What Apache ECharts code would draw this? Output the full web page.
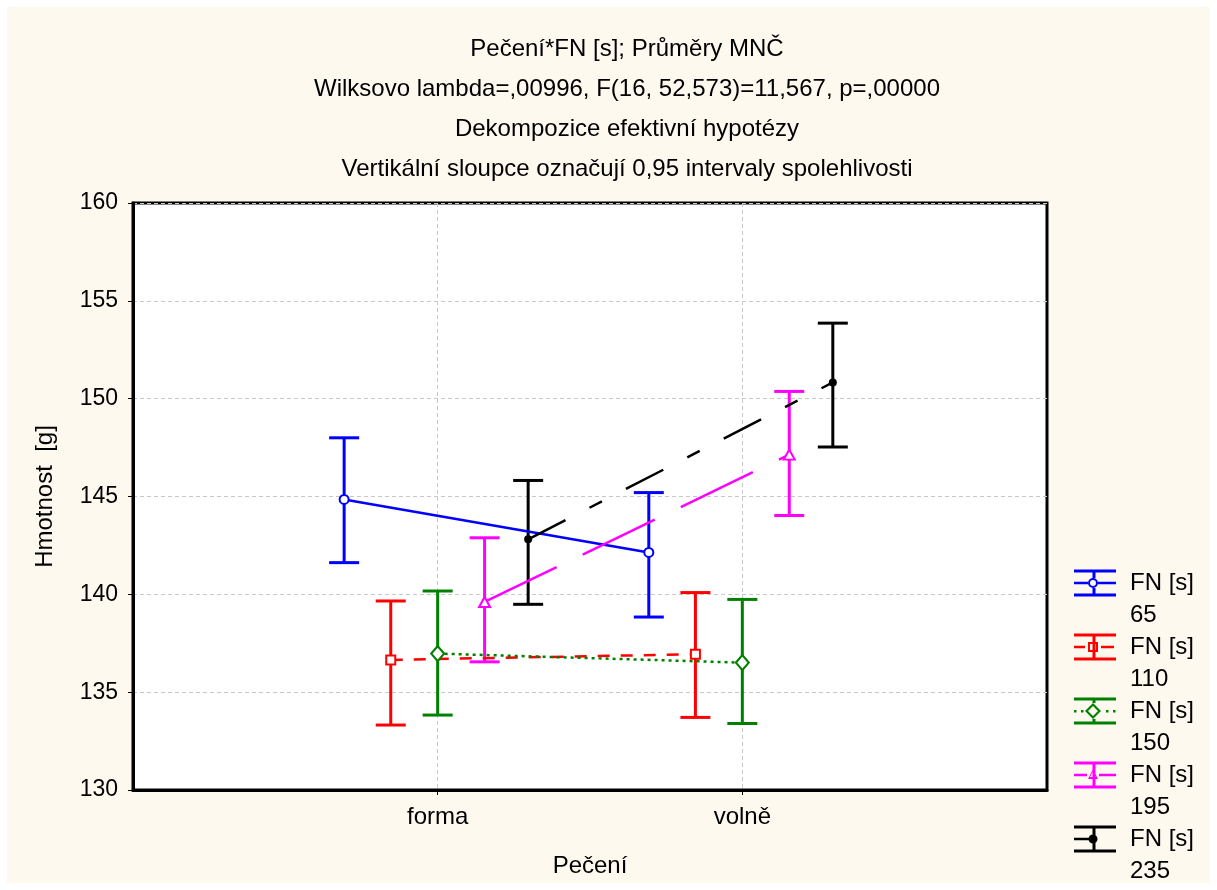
<!DOCTYPE html>
<html>
<head>
<meta charset="utf-8">
<script src="https://cdn.jsdelivr.net/npm/echarts@6/dist/echarts.min.js"></script>
<style>
html, body { margin: 0; background: #fff; }
#chart { position: absolute; left: 7px; top: 7px; width: 1203px; height: 876px; }
</style>
</head>
<body>
<div id="chart"></div>
<script>
// data
const groups = ['forma', 'volně'];
const fnLevels = ['65', '110', '150', '195', '235'];
const means  = [[144.85, 142.14], [136.65, 136.94], [136.97, 136.51], [139.61, 147.14], [142.81, 150.83]];
const lowers = [[141.62, 138.84], [133.32, 133.71], [133.83, 133.40], [136.55, 144.03], [139.49, 147.53]];
const uppers = [[148.00, 145.20], [139.66, 140.09], [140.17, 139.74], [142.89, 150.37], [145.82, 153.86]];

// style
const FONT = '"Liberation Sans", Arial, sans-serif';
const colors = ['#0000ff', '#ff0000', '#008000', '#ff00ff', '#000000'];
const dodge = [-0.307, -0.154, 0, 0.154, 0.297];
const symbols = ['emptyCircle', 'emptyRect', 'emptyDiamond', 'emptyTriangle', 'circle'];
const symbolSizes = [9, 9, [13, 15], [11, 10], 8];
const dashes = ['solid', [12, 11], [3, 4], [80, 29], [42, 27, 14, 27]];

// legend glyphs (error bar + line + marker)
function rect(x, y, w, h) { return `M${x} ${y}L${x + w} ${y}L${x + w} ${y + h}L${x} ${y + h}Z`; }
function ring(cx, cy, ro, ri) {
    return `M${cx + ro} ${cy}A${ro} ${ro} 0 1 1 ${cx - ro} ${cy}A${ro} ${ro} 0 1 1 ${cx + ro} ${cy}Z` +
           `M${cx + ri} ${cy}A${ri} ${ri} 0 1 0 ${cx - ri} ${cy}A${ri} ${ri} 0 1 0 ${cx + ri} ${cy}Z`;
}
function disc(cx, cy, r) {
    return `M${cx + r} ${cy}A${r} ${r} 0 1 1 ${cx - r} ${cy}A${r} ${r} 0 1 1 ${cx + r} ${cy}Z`;
}
function sqRing(cx, cy, ro, ri) {
    return `M${cx - ro} ${cy - ro}L${cx + ro} ${cy - ro}L${cx + ro} ${cy + ro}L${cx - ro} ${cy + ro}Z` +
           `M${cx - ri} ${cy - ri}L${cx - ri} ${cy + ri}L${cx + ri} ${cy + ri}L${cx + ri} ${cy - ri}Z`;
}
function diaRing(cx, cy, ro, ri) {
    return `M${cx} ${cy - ro}L${cx + ro} ${cy}L${cx} ${cy + ro}L${cx - ro} ${cy}Z` +
           `M${cx} ${cy - ri}L${cx - ri} ${cy}L${cx} ${cy + ri}L${cx + ri} ${cy}Z`;
}
function triRing(cx, cy, ro, ri) {
    return `M${cx} ${cy - ro}L${cx + ro} ${cy + ro}L${cx - ro} ${cy + ro}Z` +
           `M${cx} ${cy - ri}L${cx - ri} ${cy + ri}L${cx + ri} ${cy + ri}Z`;
}
const glyphBase = 'M0 0M51 64' + rect(0, 2.5, 42, 3) + rect(0, 26.5, 42, 3);
const vbar = rect(18.5, 4, 3, 24);
const glyphs = [
    rect(0, 14.75, 14, 2.5) + rect(24, 14.75, 18, 2.5) + ring(19, 16, 5, 3) + rect(18.5, 4, 3, 7) + rect(18.5, 21, 3, 7),
    vbar + rect(0, 14.75, 11, 2.5) + rect(27, 14.75, 13, 2.5) + sqRing(19, 16, 5, 3),
    rect(0, 15, 2.5, 2.5) + rect(7, 15, 2.5, 2.5) + rect(32, 15, 2.5, 2.5) + rect(39, 15, 2.5, 2.5) + diaRing(19, 16, 8, 5) +
        rect(18.5, 4, 3, 4) + rect(18.5, 24, 3, 4),
    vbar + rect(0, 14.75, 13, 2.5) + rect(25, 14.75, 17, 2.5) + triRing(19, 15, 5, 3),
    vbar + rect(0, 14.75, 19, 2.5) + disc(19, 16, 4.5)
];

const series = [];
fnLevels.forEach(function (lv, i) {
    series.push({
        type: 'custom',
        name: lv,
        z: 2,
        data: groups.map((g, j) => [j + 1 + dodge[i], lowers[i][j], uppers[i][j]]),
        encode: { x: 0, y: [1, 2] },
        renderItem: function (params, api) {
            const x = api.value(0);
            const lo = api.coord([x, api.value(1)]);
            const hi = api.coord([x, api.value(2)]);
            const style = { stroke: colors[i], lineWidth: 3 };
            return {
                type: 'group',
                children: [
                    { type: 'line', shape: { x1: lo[0], y1: lo[1], x2: hi[0], y2: hi[1] }, style: style },
                    { type: 'line', shape: { x1: lo[0] - 15, y1: lo[1], x2: lo[0] + 15, y2: lo[1] }, style: style },
                    { type: 'line', shape: { x1: hi[0] - 15, y1: hi[1], x2: hi[0] + 15, y2: hi[1] }, style: style }
                ]
            };
        }
    });
    series.push({
        type: 'line',
        name: lv,
        z: 3,
        data: groups.map((g, j) => [j + 1 + dodge[i], means[i][j]]),
        symbol: symbols[i],
        symbolSize: symbolSizes[i],
        color: colors[i],
        lineStyle: { color: colors[i], width: 2.5, type: dashes[i] },
        itemStyle: { color: colors[i], borderWidth: 2 },
        emphasis: { disabled: true }
    });
});

const chart = echarts.init(document.getElementById('chart'));
chart.setOption({
    backgroundColor: '#fdf9ef',
    animation: false,
    title: {
        text: 'Pečení*FN [s]; Průměry MNČ\nWilksovo lambda=,00996, F(16, 52,573)=11,567, p=,00000\nDekompozice efektivní hypotézy\nVertikální sloupce označují 0,95 intervaly spolehlivosti',
        left: 615,
        top: 17,
        textAlign: 'center',
        textStyle: { fontFamily: FONT, fontSize: 24, fontWeight: 'normal', color: '#000', lineHeight: 40 }
    },
    legend: {
        orient: 'vertical',
        left: 1067,
        top: 560,
        width: 140,
        height: 340,
        padding: 0,
        itemGap: 0,
        itemWidth: 51,
        itemHeight: 64,
        selectedMode: false,
        data: fnLevels.map((lv, i) => ({
            name: lv,
            icon: 'path://' + glyphBase + glyphs[i],
            itemStyle: { color: colors[i], borderWidth: 0 }
        })),
        formatter: name => 'FN [s]\n' + name,
        textStyle: { fontFamily: FONT, fontSize: 24, color: '#000', lineHeight: 32 }
    },
    grid: {
        left: 126, top: 196, width: 914, height: 588,
        show: true, backgroundColor: '#fff', borderColor: '#000', borderWidth: 3
    },
    xAxis: {
        type: 'value',
        min: 0, max: 3, interval: 1,
        name: 'Pečení',
        nameLocation: 'middle',
        nameGap: 64,
        nameTextStyle: { fontFamily: FONT, fontSize: 24, color: '#000' },
        axisLine: { show: true, lineStyle: { color: '#000', width: 3 } },
        axisTick: { show: true, customValues: [1, 2], length: 5, lineStyle: { color: '#000', width: 1 } },
        axisLabel: {
            customValues: [1, 2],
            formatter: v => groups[v - 1] || '',
            fontFamily: FONT, fontSize: 24, color: '#000', margin: 15
        },
        splitLine: { show: true, lineStyle: { color: '#c8c8c8', width: 1, type: [4, 3] } }
    },
    yAxis: {
        type: 'value',
        min: 130, max: 160, interval: 5,
        name: 'Hmotnost  [g]',
        nameLocation: 'middle',
        nameGap: 76,
        nameTextStyle: { fontFamily: FONT, fontSize: 24, color: '#000' },
        axisLine: { show: true, lineStyle: { color: '#000', width: 3 } },
        axisTick: { show: true, length: 5, lineStyle: { color: '#000', width: 1 } },
        axisLabel: { fontFamily: FONT, fontSize: 23, color: '#000', margin: 15 },
        splitLine: { show: true, lineStyle: { color: '#c8c8c8', width: 1, type: [4, 3] } }
    },
    series: series
});
</script>
</body>
</html>
